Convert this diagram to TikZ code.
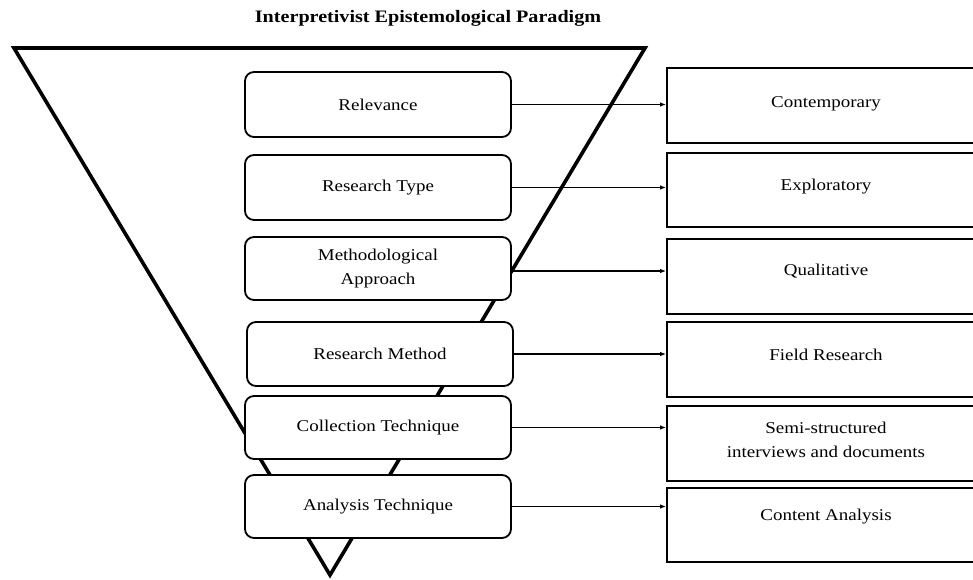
\documentclass[tikz,border=0pt]{standalone}
\usepackage{fontspec}
\setmainfont{Liberation Serif}[FakeStretch=1.15]
\usetikzlibrary{arrows.meta}
\begin{document}
\begin{tikzpicture}[x=1pt,y=-1pt,
  lbox/.style={draw, line width=1.8pt, rounded corners=9pt, fill=white, minimum width=266pt, inner sep=0pt, font=\fontsize{16.5}{24}\selectfont, align=center},
  rbox/.style={draw, line width=1.8pt, fill=white, minimum width=328pt, inner sep=0pt},
  txt/.style={font=\fontsize{16.5}{24}\selectfont, align=center, inner sep=0pt},
  arr/.style={line width=1.5pt, -{Latex[length=6pt,width=4.5pt]}}]
\useasboundingbox (0,0) rectangle (973,579);
\clip (0,0) rectangle (973,579);
\node[font=\bfseries\fontsize{17.5}{20}\selectfont, inner sep=0pt] (title) at (428,18) {Interpretivist Epistemological Paradigm};
\draw[line width=3.6pt] (14,48) -- (645,48) -- (330,575) -- cycle;
% left boxes
\node[lbox, minimum height=65pt] (l1) at (378,104.5) {Relevance};
\node[lbox, minimum height=65pt] (l2) at (378,187.5) {Research Type};
\node[lbox, minimum height=63pt] (l3) at (378,268.5) {Methodological\\Approach};
\node[lbox, minimum height=64pt] (l4) at (380,354) {Research Method};
\node[lbox, minimum height=63pt] (l5) at (378,427.5) {Collection Technique};
\node[lbox, minimum height=63pt] (l6) at (378,506.5) {Analysis Technique};
% right boxes
\node[rbox, minimum height=75pt] (r1) at (831,105.5) {};
\node[rbox, minimum height=74pt] (r2) at (831,190) {};
\node[rbox, minimum height=75pt] (r3) at (831,276.5) {};
\node[rbox, minimum height=75pt] (r4) at (831,359.5) {};
\node[rbox, minimum height=75pt] (r5) at (831,443.5) {};
\node[rbox, minimum height=74pt] (r6) at (831,525) {};
\node[txt] (t1) at (826,104) {Contemporary};
\node[txt] (t2) at (826,187) {Exploratory};
\node[txt] (t3) at (826,271) {Qualitative};
\node[txt] (t4) at (826,355) {Field Research};
\node[txt] (t5) at (826,440) {Semi-structured\\interviews and documents};
\node[txt] (t6) at (826,517) {Content Analysis};
% arrows
\draw[arr] (l1.east) -- (l1.east -| r1.west);
\draw[arr] (l2.east) -- (l2.east -| r2.west);
\draw[arr] ([yshift=-2.5pt]l3.east) -- ([yshift=-2.5pt]l3.east -| r3.west);
\draw[arr] (l4.east) -- (l4.east -| r4.west);
\draw[arr] (l5.east) -- (l5.east -| r5.west);
\draw[arr] (l6.east) -- (l6.east -| r6.west);
\end{tikzpicture}
\end{document}
